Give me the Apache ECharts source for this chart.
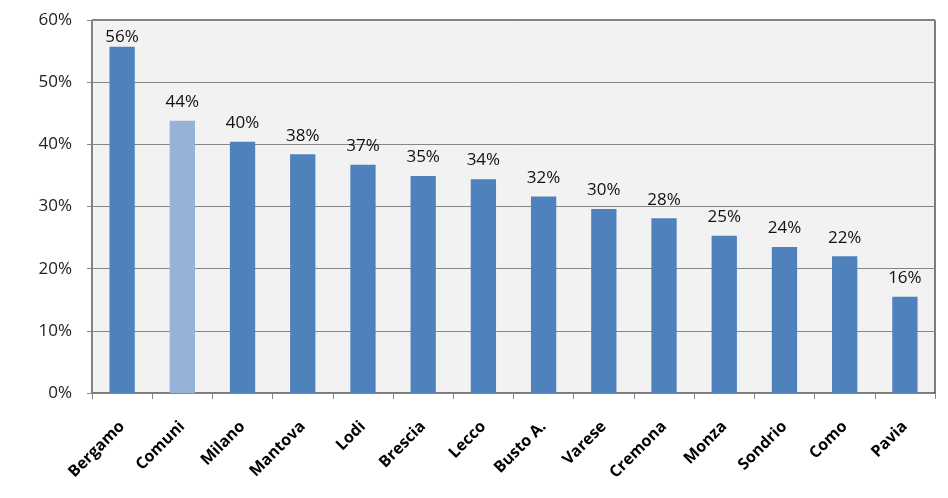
<!DOCTYPE html>
<html><head><meta charset="utf-8">
<script src="https://cdn.jsdelivr.net/npm/echarts@6/dist/echarts.min.js"></script>
<style>html,body{margin:0;padding:0;background:#fff}#c{width:948px;height:498px}</style>
</head><body><div id="c"></div>
<script>
const categories = ['Bergamo','Comuni','Milano','Mantova','Lodi','Brescia','Lecco','Busto A.','Varese','Cremona','Monza','Sondrio','Como','Pavia'];
const values = [55.7, 43.8, 40.4, 38.4, 36.7, 34.9, 34.4, 31.6, 29.6, 28.1, 25.3, 23.5, 22.0, 15.5];
const highlighted = ['Comuni'];
const yTicks = [0, 10, 20, 30, 40, 50, 60];

const chart = echarts.init(document.getElementById('c'));
chart.setOption({
  animation: false,
  backgroundColor: '#ffffff',
  grid: {left: 92, right: 13, top: 20, bottom: 105, show: true, backgroundColor: '#f2f2f2', borderColor: '#000', borderWidth: 1},
  xAxis: {
    type: 'category', data: categories,
    axisLine: {lineStyle: {color: '#868686', width: 1}},
    axisTick: {show: true, length: 6, lineStyle: {color: '#868686'}},
    axisLabel: {rotate: 45, margin: 31, fontFamily: 'Open Sans', fontWeight: 'bold', fontSize: 16, color: '#000'}
  },
  yAxis: {
    type: 'value', min: yTicks[0], max: yTicks[yTicks.length-1], interval: 10,
    axisLine: {show: true, lineStyle: {color: '#868686'}},
    axisTick: {show: true, length: 5, lineStyle: {color: '#868686'}},
    splitLine: {lineStyle: {color: '#868686', width: 1}},
    axisLabel: {formatter: v => v + '%', margin: 20, fontFamily: 'Open Sans', fontSize: 17, color: '#222'}
  },
  series: [{
    type: 'bar', barWidth: '42%',
    data: values.map((v, i) => ({
      value: v,
      itemStyle: {color: highlighted.includes(categories[i]) ? '#95b3d7' : '#4f81bd'},
      label: i === 0 ? {distance: 1} : undefined
    })),
    label: {show: true, position: 'top', distance: 10, formatter: p => Math.round(p.value) + '%', fontFamily: 'Open Sans', fontSize: 17, color: '#111'}
  }]
});
</script></body></html>
